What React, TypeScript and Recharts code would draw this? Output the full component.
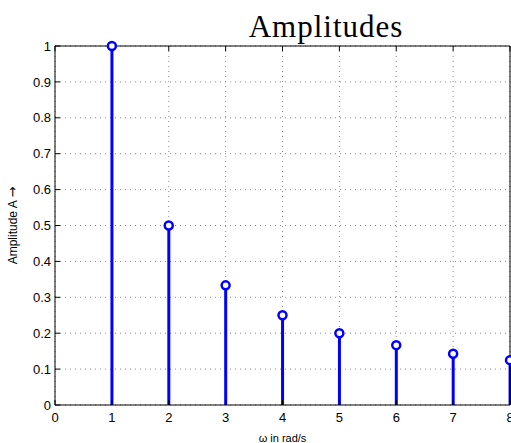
import React from 'react';
import { ComposedChart, Bar, Scatter, XAxis, YAxis, CartesianGrid } from 'recharts';

const omegas = [1, 2, 3, 4, 5, 6, 7, 8];
const amplitudes = [1, 0.5, 0.3333, 0.25, 0.2, 0.1667, 0.1429, 0.125];
const xTicks = [0, 1, 2, 3, 4, 5, 6, 7, 8];
const yTicks = [0, 0.1, 0.2, 0.3, 0.4, 0.5, 0.6, 0.7, 0.8, 0.9, 1];

const data = omegas.map((w, i) => ({ w, a: amplitudes[i] }));

const BLUE = '#0000ff';
const font = 'Liberation Sans, Arial, Helvetica, sans-serif';

const NoTick = () => <g />;

const Marker = (props: any) => {
  const { cx, cy } = props;
  if (cx == null || cy == null) return <g />;
  return <circle cx={cx} cy={cy} r={4} fill="#fff" stroke={BLUE} strokeWidth={2.5} />;
};

const YLabel = (props: any) => {
  const vb = props.viewBox || {};
  const cy = (vb.y ?? 45) + (vb.height ?? 360) / 2;
  const x = 17;
  return (
    <text x={x} y={cy} transform={`rotate(-90 ${x} ${cy})`} textAnchor="middle" fontFamily={font} fontSize={12} fill="#000">
      Amplitude A <tspan fontFamily="DejaVu Sans, sans-serif" fontSize={13}>→</tspan>
    </text>
  );
};

export default function App() {
  return (
    <div style={{ position: 'absolute', left: 0, top: 0, width: 511, height: 443, background: '#fff' }}>
      <ComposedChart
        width={511}
        height={443}
        data={data}
        margin={{ top: 45, right: 0, left: 0, bottom: 0 }}
      >
        <CartesianGrid
          xAxisId="b"
          yAxisId="l"
          stroke="#888"
          strokeDasharray="1 4"
          horizontal
          vertical
        />
        <XAxis
          xAxisId="b"
          dataKey="w"
          type="number"
          domain={[0, 8]}
          ticks={xTicks}
          interval={0}
          height={38}
          tickSize={-5}
          tickMargin={13}
          stroke="#000"
          tick={{ fill: '#000', fontSize: 13, fontFamily: font }}
          label={{ value: 'ω in rad/s', position: 'insideBottom', offset: 0, fill: '#000', fontSize: 11, fontFamily: font, dy: -1 }}
        />
        <XAxis
          xAxisId="t"
          dataKey="w"
          type="number"
          orientation="top"
          domain={[0, 8]}
          ticks={xTicks}
          interval={0}
          height={1}
          tickSize={-5}
          stroke="#000"
          tick={NoTick}
        />
        <YAxis
          yAxisId="l"
          type="number"
          domain={[0, 1]}
          ticks={yTicks}
          interval={0}
          width={55}
          tickSize={-5}
          tickMargin={9}
          stroke="#000"
          tick={{ fill: '#000', fontSize: 13, fontFamily: font }}
          label={<YLabel />}
        />
        <YAxis
          yAxisId="r"
          orientation="right"
          type="number"
          domain={[0, 1]}
          ticks={yTicks}
          interval={0}
          width={1}
          tickSize={-5}
          stroke="#000"
          tick={NoTick}
        />
        <Bar xAxisId="b" yAxisId="l" dataKey="a" barSize={3} fill={BLUE} isAnimationActive={false} />
        <Scatter xAxisId="b" yAxisId="l" dataKey="a" shape={<Marker />} isAnimationActive={false} />
        <text x={326} y={37} textAnchor="middle" fontFamily="Liberation Serif, DejaVu Serif, serif" fontSize={31} letterSpacing={1} fill="#000">
          Amplitudes
        </text>
      </ComposedChart>
    </div>
  );
}
